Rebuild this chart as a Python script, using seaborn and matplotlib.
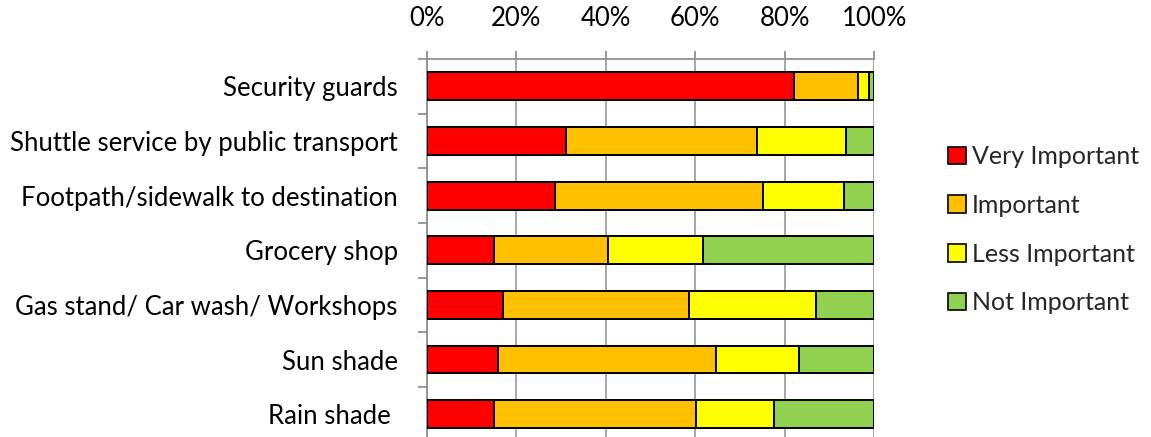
import matplotlib
matplotlib.use("Agg")
import matplotlib.pyplot as plt
from matplotlib.patches import Patch
from matplotlib.ticker import FixedLocator, PercentFormatter
import seaborn as sns
import pandas as pd
import numpy as np

# Facilities and the share of respondents in each importance rating (%)
facilities = [
    "Security guards",
    "Shuttle service by public transport",
    "Footpath/sidewalk to destination",
    "Grocery shop",
    "Gas stand/ Car wash/ Workshops",
    "Sun shade",
    "Rain shade ",
]
very_important = [82.1, 31.0, 28.6, 15.0, 17.0, 15.8, 15.0]
important = [14.2, 42.8, 46.5, 25.5, 41.5, 48.9, 45.2]
less_important = [2.6, 20.0, 18.2, 21.3, 28.6, 18.6, 17.5]
not_important = [1.1, 6.2, 6.7, 38.2, 12.9, 16.7, 22.3]

ratings = ["Very Important", "Important", "Less Important", "Not Important"]
colors = ["#FF0000", "#FFC000", "#FFFF00", "#92D050"]

sns.set_theme(style="white")
plt.rcParams["font.family"] = ["Lato", "DejaVu Sans"]

df = pd.DataFrame({
    "facility": facilities,
    "Very Important": very_important,
    "Important": important,
    "Less Important": less_important,
    "Not Important": not_important,
})
cum = df[ratings].cumsum(axis=1)
cum = cum.div(cum["Not Important"], axis=0) * 100

fig = plt.figure(figsize=(11.51, 4.37), dpi=100)
ax = fig.add_axes([0.371, -0.0103, 0.3884, 0.8753])

# Stacked bars: draw cumulative totals from the outermost segment inward
for rating, color in reversed(list(zip(ratings, colors))):
    sns.barplot(data=cum.assign(facility=df["facility"]), x=rating, y="facility",
                orient="h", color=color, width=0.51, edgecolor="black",
                linewidth=1.4, saturation=1, ax=ax, zorder=3)

ax.set_xlim(0, 100)
ax.set_ylim(len(facilities) - 0.5, -0.5)
ax.xaxis.tick_top()
ax.set_xticks(np.arange(0, 101, 20))
ax.xaxis.set_major_formatter(PercentFormatter(decimals=0))
ax.set_xlabel("")
ax.set_ylabel("")
ax.grid(axis="x", color="#a0a0a0", linewidth=1.3, zorder=0)
ax.set_axisbelow(True)

for side in ["bottom", "right"]:
    ax.spines[side].set_visible(False)
for side in ["top", "left"]:
    ax.spines[side].set_color("#909090")
    ax.spines[side].set_linewidth(1.3)

ax.tick_params(axis="x", which="major", direction="out", length=6, width=1.3,
               color="#909090", pad=14, labelsize=18.5, labelcolor="black", top=True)
ax.tick_params(axis="y", which="major", length=0, pad=21, labelsize=18.5,
               labelcolor="black")
ax.yaxis.set_minor_locator(FixedLocator(np.arange(-0.5, len(facilities), 1)))
ax.tick_params(axis="y", which="minor", direction="out", length=6.5, width=1.3,
               color="#909090", left=True)

handles = [Patch(facecolor=c, edgecolor="black", linewidth=1.2, label=r)
           for r, c in zip(ratings, colors)]
fig.legend(handles=handles, loc="center left", bbox_to_anchor=(0.8045, 0.474),
           frameon=False, fontsize=18, handlelength=0.7, handleheight=0.7,
           handletextpad=0.25, labelspacing=1.03)

fig.savefig("out.png", dpi=100)
